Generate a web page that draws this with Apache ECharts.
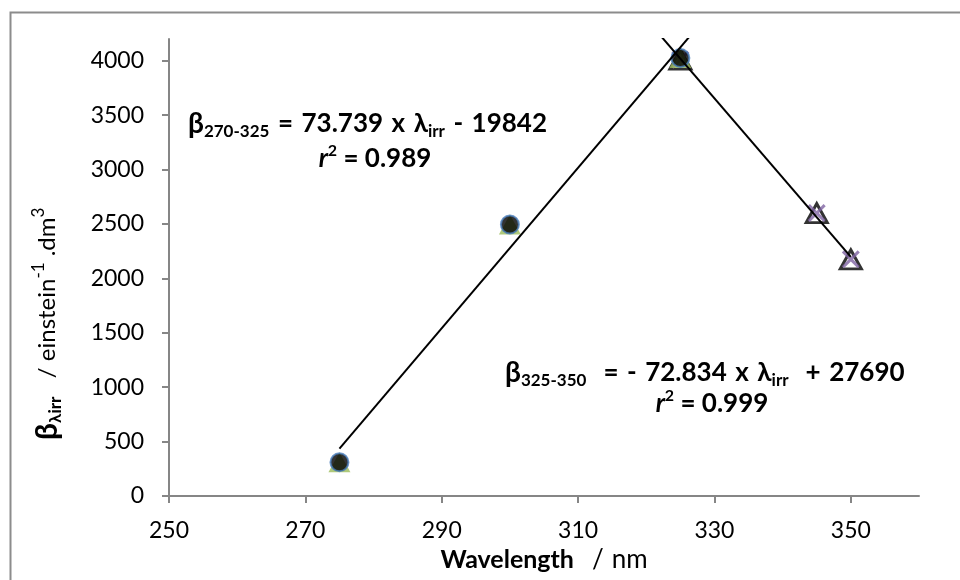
<!DOCTYPE html>
<html>
<head>
<meta charset="utf-8">
<script src="https://cdn.jsdelivr.net/npm/echarts@6/dist/echarts.min.js"></script>
<style>
html,body{margin:0;padding:0;background:#fff;}
#chart{width:960px;height:580px;}
</style>
</head>
<body>
<div id="chart"></div>
<script>
// ---- data ----
const wavelengths1 = [275, 300, 325];
const beta1 = [310, 2495, 4025];
const wavelengths2 = [325, 345, 350];
const beta2 = [4010, 2600, 2175];
const xTicks = [250, 270, 290, 310, 330, 350];
const yTicks = [0, 500, 1000, 1500, 2000, 2500, 3000, 3500, 4000];
const fit1Slope = 73.739, fit1Intercept = -19842, fit1R2 = '0.989', fit1Range = [275, 330];
const fit2Slope = -72.834, fit2Intercept = 27690, fit2R2 = '0.999', fit2Range = [320, 350];

const FONT = 'Lato';
const pts1 = wavelengths1.map((x, i) => [x, beta1[i]]);
const pts2 = wavelengths2.map((x, i) => [x, beta2[i]]);
const line1 = fit1Range.map(x => [x, fit1Slope * x + fit1Intercept]);
const line2 = fit2Range.map(x => [x, fit2Slope * x + fit2Intercept]);

const X_PATH = 'path://M0,1.2L1.2,0L5,3.8L8.8,0L10,1.2L6.2,5L10,8.8L8.8,10L5,6.2L1.2,10L0,8.8L3.8,5Z';

const chart = echarts.init(document.getElementById('chart'), null, {renderer: 'canvas'});

const rich = {
  b: {fontFamily: FONT, fontSize: 28, fontWeight: 'bold', color: '#000', lineHeight: 32, verticalAlign: 'middle'},
  m: {fontFamily: FONT, fontSize: 26, fontWeight: 'bold', color: '#000', lineHeight: 32, verticalAlign: 'middle'},
  s: {fontFamily: FONT, fontSize: 17, fontWeight: 'bold', color: '#000', lineHeight: 15, verticalAlign: 'bottom'},
  i: {fontFamily: FONT, fontSize: 26, fontWeight: 'bold', fontStyle: 'italic', color: '#000', lineHeight: 32, verticalAlign: 'middle'},
  p: {fontFamily: FONT, fontSize: 16, fontWeight: 'bold', color: '#000', lineHeight: 15, verticalAlign: 'top'},
  g: {fontSize: 10, width: 8.5, lineHeight: 32, verticalAlign: 'middle'}
};
const G = '{g| }';
const sign = v => (v < 0 ? '-' : '+');

const ann1a = '{b|β}{s|270-325}' + G + '{m|=}' + G + '{m|' + fit1Slope + '}' + G + '{m|x}' + G +
  '{m|λ}{s|irr}' + G + '{m|' + sign(fit1Intercept) + '}' + G + '{m|' + Math.abs(fit1Intercept) + '}';
const ann1b = '{i|r}{p|2}{m| = ' + fit1R2 + '}';
const ann2a = '{b|β}{s|325-350}' + G + G + '{m|=}' + G + '{m|' + sign(fit2Slope) + '}' + G +
  '{m|' + Math.abs(fit2Slope) + '}' + G + '{m|x}' + G + '{m|λ}{s|irr}' + G + G +
  '{m|' + sign(fit2Intercept) + '}' + G + '{m|' + Math.abs(fit2Intercept) + '}';
const ann2b = '{i|r}{p|2}{m| = ' + fit2R2 + '}';

const yTitleRich = {
  b: {fontFamily: FONT, fontSize: 30, fontWeight: 'bold', color: '#000', lineHeight: 34, verticalAlign: 'middle'},
  s: {fontFamily: FONT, fontSize: 17, fontWeight: 'bold', color: '#000', lineHeight: 15, verticalAlign: 'bottom'},
  n: {fontFamily: FONT, fontSize: 24, color: '#000', lineHeight: 34, verticalAlign: 'middle'},
  p: {fontFamily: FONT, fontSize: 17, color: '#000', lineHeight: 16, verticalAlign: 'top'}
};

chart.setOption({
  animation: false,
  backgroundColor: '#fff',
  grid: {left: 169, right: 41, top: 39, bottom: 84, containLabel: false, outerBoundsMode: 'none'},
  xAxis: {
    type: 'value', min: 250, max: 360,
    axisLine: {show: true, onZero: false, lineStyle: {color: '#868686', width: 2}},
    axisTick: {show: true, inside: false, length: 7, customValues: xTicks, lineStyle: {color: '#868686', width: 2}},
    axisLabel: {customValues: xTicks, margin: 23, fontFamily: FONT, fontSize: 23, color: '#000'},
    splitLine: {show: false},
    name: '{b|Wavelength}{w| }{n|/}{v| }{n|nm}',
    nameLocation: 'middle', nameGap: 50,
    nameTextStyle: {rich: {
      b: {fontFamily: FONT, fontSize: 25, fontWeight: 'bold', color: '#000'},
      n: {fontFamily: FONT, fontSize: 26, color: '#000'},
      w: {fontSize: 10, width: 18},
      v: {fontSize: 10, width: 8}
    }}
  },
  yAxis: {
    type: 'value', min: 0, max: 4200,
    axisLine: {show: true, onZero: false, lineStyle: {color: '#868686', width: 2}},
    axisTick: {show: true, inside: false, length: 7, customValues: yTicks, lineStyle: {color: '#868686', width: 2}},
    axisLabel: {customValues: yTicks, margin: 25, fontFamily: FONT, fontSize: 23, color: '#000',
                formatter: v => String(v)},
    splitLine: {show: false}
  },
  series: [
    {
      name: 'tri2', type: 'scatter', data: pts2, symbol: 'triangle', symbolSize: [21, 19], z: 2,
      itemStyle: {color: 'rgba(255,255,255,0)', borderColor: '#000', borderWidth: 3}
    },
    {
      name: 'x2', type: 'scatter', data: pts2, symbol: X_PATH, symbolSize: 18, z: 3,
      itemStyle: {color: '#8064A2'}
    },
    {
      name: 'tri1', type: 'scatter', data: pts1, symbol: 'triangle', symbolSize: [22, 20], z: 4,
      itemStyle: {color: '#9BBB59'}
    },
    {
      name: 'circ1', type: 'scatter', data: pts1, symbol: 'circle', symbolSize: 18, z: 5,
      itemStyle: {color: '#000', borderColor: '#4A7EBB', borderWidth: 2}
    },
    {
      name: 'fit1', type: 'line', data: line1, symbol: 'none', clip: true, z: 6,
      lineStyle: {color: '#000', width: 2}
    },
    {
      name: 'fit2', type: 'line', data: line2, symbol: 'none', clip: true, z: 6,
      lineStyle: {color: '#000', width: 2}
    }
  ],
  graphic: [
    {type: 'rect', left: 8, top: 10, shape: {width: 1200, height: 1200}, silent: true,
     style: {fill: 'none', stroke: '#8c8c8c', lineWidth: 2}, z: -10},
    {type: 'text', x: 188, y: 124, style: {text: ann1a, rich: rich, align: 'left', verticalAlign: 'middle'}},
    {type: 'text', x: 375, y: 159, style: {text: ann1b, rich: rich, align: 'center', verticalAlign: 'middle'}},
    {type: 'text', x: 505, y: 373, style: {text: ann2a, rich: rich, align: 'left', verticalAlign: 'middle'}},
    {type: 'text', x: 712, y: 404, style: {text: ann2b, rich: rich, align: 'center', verticalAlign: 'middle'}},
    {type: 'text', x: 47, y: 440, rotation: Math.PI / 2,
     style: {text: '{b|β}{s|λirr}{n|   / einstein}{p|-1}{n| .dm}{p|3}', rich: yTitleRich, align: 'left', verticalAlign: 'middle'}}
  ]
});
</script>
</body>
</html>
